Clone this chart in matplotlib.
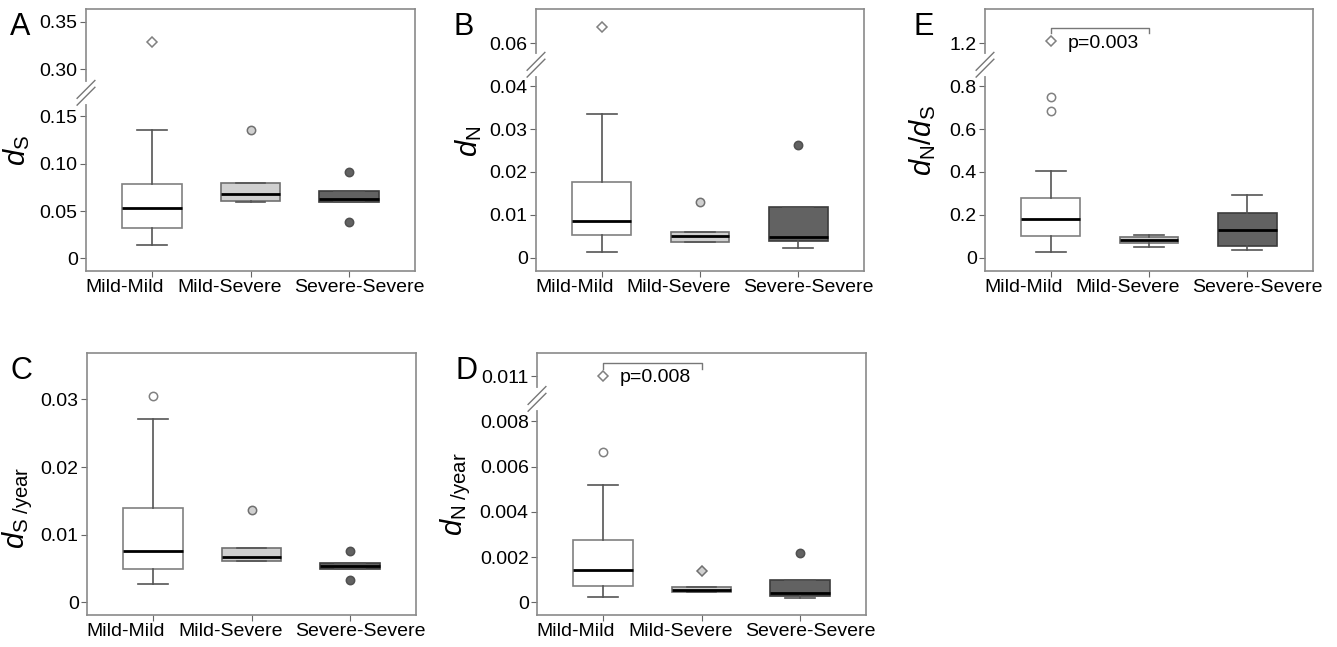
# Box plots of dS, dN, dN/dS (and per-year rates) by transmission pair type.
import matplotlib
matplotlib.use("Agg")
import matplotlib.pyplot as plt
from matplotlib.transforms import ScaledTranslation

plt.rcParams['font.family'] = ['Liberation Sans', 'DejaVu Sans']
plt.rcParams['mathtext.fontset'] = 'custom'
plt.rcParams['mathtext.rm'] = 'Liberation Sans'
plt.rcParams['mathtext.it'] = 'Liberation Sans:italic'

groups = ['Mild-Mild', 'Mild-Severe', 'Severe-Severe']

# A: dS
ds_lo = [0.014, 0.060, 0.0596]
ds_q1 = [0.0325, 0.0603, 0.0596]
ds_med = [0.053, 0.0678, 0.0628]
ds_q3 = [0.0787, 0.080, 0.0716]
ds_hi = [0.1355, 0.080, 0.0716]
ds_out = [[], [0.136], [0.0914, 0.0385]]
ds_ext = [[0.329], [], []]
ds_ticks = [0, 0.05, 0.10, 0.15, 0.30, 0.35]
ds_labels = ['0', '0.05', '0.10', '0.15', '0.30', '0.35']

# B: dN
dn_lo = [0.00125, 0.0037, 0.00218]
dn_q1 = [0.0052, 0.0037, 0.0040]
dn_med = [0.0085, 0.0051, 0.00475]
dn_q3 = [0.0177, 0.0060, 0.0118]
dn_hi = [0.0336, 0.0061, 0.0118]
dn_out = [[], [0.0131], [0.0263]]
dn_ext = [[0.0638], [], []]
dn_ticks = [0, 0.01, 0.02, 0.03, 0.04, 0.06]
dn_labels = ['0', '0.01', '0.02', '0.03', '0.04', '0.06']

# E: dN/dS
r_lo = [0.0265, 0.050, 0.036]
r_q1 = [0.103, 0.067, 0.055]
r_med = [0.181, 0.0825, 0.129]
r_q3 = [0.280, 0.098, 0.210]
r_hi = [0.406, 0.106, 0.293]
r_out = [[0.749, 0.685], [], []]
r_ext = [[1.213], [], []]
r_ticks = [0, 0.2, 0.4, 0.6, 0.8, 1.2]
r_labels = ['0', '0.2', '0.4', '0.6', '0.8', '1.2']

# C: dS/year
dsy_lo = [0.00266, 0.00607, 0.00498]
dsy_q1 = [0.00488, 0.00607, 0.00498]
dsy_med = [0.0076, 0.0067, 0.00543]
dsy_q3 = [0.0140, 0.00804, 0.00587]
dsy_hi = [0.0271, 0.00804, 0.00587]
dsy_out = [[0.0305], [0.0136], [0.00765, 0.00326]]
dsy_ext = [[], [], []]
dsy_ticks = [0, 0.01, 0.02, 0.03]
dsy_labels = ['0', '0.01', '0.02', '0.03']

# D: dN/year
dny_lo = [0.00022, 0.00047, 0.00021]
dny_q1 = [0.00072, 0.00047, 0.0003]
dny_med = [0.00143, 0.00056, 0.0004]
dny_q3 = [0.00276, 0.00068, 0.00099]
dny_hi = [0.00518, 0.00068, 0.00099]
dny_out = [[0.00667], [], [0.00218]]
dny_ext = [[0.0110], [0.0014], []]
dny_ticks = [0, 0.002, 0.004, 0.006, 0.008, 0.011]
dny_labels = ['0', '0.002', '0.004', '0.006', '0.008', '0.011']

box_face = ['white', '#d0d0d0', '#626262']
box_edge = ['#808080', '#707070', '#3c3c3c']
pt_edge = ['#808080', '#707070', '#505050']
xlab_shift = [-27, -21, 10]   # px, the category labels sit off-centre
W, H = 1337, 647


def panel(rect, letter, lx, ylabel, ylab_pos, lo, q1, med, q3, hi, out, ext,
          ticks, labels, ylim, brk=None, pval=None):
    # brk = (last value below break, amount removed above it)
    def f(v):
        if brk is None or v <= brk[0]:
            return v
        return v - brk[1]

    l, t, r, b = rect
    ax = fig.add_axes([l / W, 1 - b / H, (r - l) / W, (b - t) / H])
    stats = [dict(whislo=f(lo[i]), q1=f(q1[i]), med=f(med[i]), q3=f(q3[i]),
                  whishi=f(hi[i]), fliers=[]) for i in range(3)]
    bp = ax.bxp(stats, positions=[1, 2, 3], widths=0.6, capwidths=0.3,
                patch_artist=True, showfliers=False,
                whiskerprops=dict(color='#555555', lw=1.2),
                capprops=dict(color='#555555', lw=1.2),
                medianprops=dict(color='black', lw=2))
    for i, patch in enumerate(bp['boxes']):
        patch.set_facecolor(box_face[i])
        patch.set_edgecolor(box_edge[i])
        patch.set_linewidth(1.2)
    for i in range(3):
        if out[i]:
            ax.plot([i + 1] * len(out[i]), [f(v) for v in out[i]], 'o', ms=6,
                    mfc=box_face[i], mec=pt_edge[i], mew=1.1, zorder=4)
        if ext[i]:
            ax.plot([i + 1] * len(ext[i]), [f(v) for v in ext[i]], 'D', ms=5.5,
                    mfc=box_face[i], mec=pt_edge[i], mew=1.1, zorder=4)

    ax.set_xlim(0.33, 3.67)
    ax.set_ylim(*ylim)
    ax.set_xticks([1, 2, 3])
    ax.set_xticklabels([])
    # category names placed by hand so they do not run into each other
    for i, (g, dx) in enumerate(zip(groups, xlab_shift)):
        tr = ax.get_xaxis_transform() + ScaledTranslation(dx / 100, -0.08,
                                                          fig.dpi_scale_trans)
        ax.text(i + 1, 0, g, transform=tr, fontsize=14, ha='center', va='top')
    ax.set_yticks([f(v) for v in ticks])
    ax.set_yticklabels(labels, fontsize=14)
    ax.tick_params(direction='out', length=4, color='#666666', pad=2)
    for s in ax.spines.values():
        s.set_color('#8a8a8a')
        s.set_linewidth(1.2)
    ax.set_ylabel(ylabel, fontsize=21)
    ax.yaxis.set_label_coords(*ylab_pos)

    if brk is not None:
        k = [f(v) for v in ticks]
        j = next(n for n, v in enumerate(ticks) if v > brk[0])
        mid = (k[j - 1] + k[j]) / 2
        yf = (mid - ylim[0]) / (ylim[1] - ylim[0])
        ax.plot([0, 0], [yf - 0.035, yf + 0.035], color='white', lw=3,
                transform=ax.transAxes, clip_on=False, zorder=5)
        for off in (-0.013, 0.013):
            ax.plot([-0.027, 0.027], [yf + off - 0.034, yf + off + 0.034],
                    color='#777777', lw=1, transform=ax.transAxes,
                    clip_on=False, zorder=6)

    if pval is not None:
        text, yb, d, yt = pval
        ax.plot([1, 1, 2, 2], [yb - d, yb, yb, yb - d], color='#777777', lw=1)
        ax.text(1.17, yt, text, fontsize=14, va='center', ha='left')

    fig.text(lx / W, 1 - (t + 3) / H, letter, fontsize=22,
             ha='left', va='top')
    return ax


fig = plt.figure(figsize=(13.37, 6.47), dpi=100)

panel((86, 9, 415, 271), 'A', 10, r'$d_{\mathrm{S}}$', (-0.165, 0.46),
      ds_lo, ds_q1, ds_med, ds_q3, ds_hi, ds_out, ds_ext,
      ds_ticks, ds_labels, (-0.0134, 0.2636), brk=(0.15, 0.10))
panel((536, 9, 864, 271), 'B', 454, r'$d_{\mathrm{N}}$', (-0.16, 0.496),
      dn_lo, dn_q1, dn_med, dn_q3, dn_hi, dn_out, dn_ext,
      dn_ticks, dn_labels, (-0.0031, 0.058), brk=(0.04, 0.01))
panel((985, 9, 1313, 271), 'E', 913, r'$d_{\mathrm{N}}/d_{\mathrm{S}}$',
      (-0.143, 0.496),
      r_lo, r_q1, r_med, r_q3, r_hi, r_out, r_ext,
      r_ticks, r_labels, (-0.062, 1.16), brk=(0.8, 0.2),
      pval=('p=0.003', 1.071, 0.025, 1.0))
panel((87, 353, 416, 615), 'C', 10, r'$d_{\mathrm{S\ /year}}$', (-0.158, 0.408),
      dsy_lo, dsy_q1, dsy_med, dsy_q3, dsy_hi, dsy_out, dsy_ext,
      dsy_ticks, dsy_labels, (-0.00187, 0.03685))
panel((537, 353, 866, 615), 'D', 455, r'$d_{\mathrm{N\ /year}}$', (-0.195, 0.462),
      dny_lo, dny_q1, dny_med, dny_q3, dny_hi, dny_out, dny_ext,
      dny_ticks, dny_labels, (-0.00056, 0.01103), brk=(0.008, 0.001),
      pval=('p=0.008', 0.01058, 0.00025, 0.00995))

fig.savefig('out.png', dpi=100)
